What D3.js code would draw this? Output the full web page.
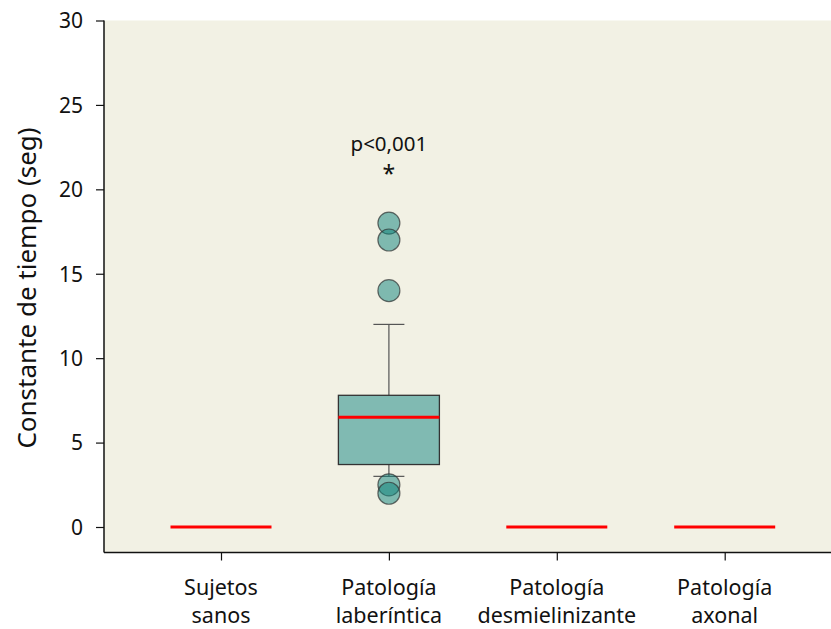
<!DOCTYPE html>
<html><head><meta charset="utf-8">
<script src="https://cdn.jsdelivr.net/npm/d3@7"></script>
<style>body{margin:0;background:#fff;} svg{display:block;} text{font-family:"Noto Sans","Open Sans",sans-serif;fill:#111;}</style>
</head><body>
<svg id="c" width="831" height="629"></svg>
<script>
const categories = ["Sujetos sanos","Patología laberíntica","Patología desmielinizante","Patología axonal"];
const labelLines = [["Sujetos","sanos"],["Patología","laberíntica"],["Patología","desmielinizante"],["Patología","axonal"]];
// box stats: [min whisker, q1, median, q3, max whisker]
const boxStats = [
  [0,0,0,0,0],
  [3.0,3.7,6.5,7.8,12.0],
  [0,0,0,0,0],
  [0,0,0,0,0]
];
const outlierCat = [1,1,1,1,1];
const outlierVal = [18,17,14,2.5,2.0];
const yTicks = [0,5,10,15,20,25,30];
const annotText = "p<0,001";
const annotStar = "*";

const svg = d3.select("#c");
const L=104, R=831, T=20.5, B=552.5;
const yS = d3.scaleLinear().domain([0,30]).range([527,20.5]);
const x = d3.scalePoint().domain(categories).range([221,724.7]);

svg.append("rect").attr("x",L).attr("y",T).attr("width",R-L).attr("height",B-T).attr("fill","#f2f1e4");

const yAxis = d3.axisLeft(yS).tickValues(yTicks).tickSize(8).tickPadding(13);
const gy = svg.append("g").attr("transform",`translate(${L},0)`).call(yAxis);
gy.select(".domain").remove();
gy.append("line").attr("x1",0).attr("x2",0).attr("y1",T).attr("y2",B).attr("stroke","#111").attr("stroke-width",1.5);
gy.selectAll(".tick line").attr("stroke","#111").attr("stroke-width",1.2);
gy.selectAll(".tick text").style("font-size","21px").attr("fill","#111").attr("dy","0.35em");

const xAxis = d3.axisBottom(x).tickSize(8).tickFormat("");
const gx = svg.append("g").attr("transform",`translate(0,${B})`).call(xAxis);
gx.select(".domain").remove();
gx.append("line").attr("x1",L).attr("x2",R).attr("stroke","#111").attr("stroke-width",1.5);
gx.selectAll(".tick line").attr("stroke","#111").attr("stroke-width",1.2);
categories.forEach((c,i)=>{
  const t = svg.append("text").attr("x",x(c)).attr("text-anchor","middle").style("font-size","21.5px");
  labelLines[i].forEach((ln,j)=>{
    t.append("tspan").attr("x",x(c)).attr("y",595+j*28).text(ln);
  });
});

svg.append("text").attr("transform",`translate(36,288) rotate(-90)`).attr("text-anchor","middle").style("font-size","26px").text("Constante de tiempo (seg)");

const bw=101, cap=31;
boxStats.forEach((s,i)=>{
  const cx = x(categories[i]);
  if (s[4]>s[0]) {
    const g = svg.append("g");
    g.append("line").attr("x1",cx).attr("x2",cx).attr("y1",yS(s[4])).attr("y2",yS(s[3])).attr("stroke","#555").attr("stroke-width",1.2);
    g.append("line").attr("x1",cx).attr("x2",cx).attr("y1",yS(s[1])).attr("y2",yS(s[0])).attr("stroke","#555").attr("stroke-width",1.2);
    g.append("line").attr("x1",cx-cap/2).attr("x2",cx+cap/2).attr("y1",yS(s[4])).attr("y2",yS(s[4])).attr("stroke","#555").attr("stroke-width",1.2);
    g.append("line").attr("x1",cx-cap/2).attr("x2",cx+cap/2).attr("y1",yS(s[0])).attr("y2",yS(s[0])).attr("stroke","#555").attr("stroke-width",1.2);
    g.append("rect").attr("x",cx-bw/2).attr("y",yS(s[3])).attr("width",bw).attr("height",yS(s[1])-yS(s[3])).attr("fill","#80bab2").attr("stroke","#333").attr("stroke-width",1.3);
  }
  svg.append("line").attr("x1",cx-bw/2).attr("x2",cx+bw/2).attr("y1",yS(s[2])).attr("y2",yS(s[2])).attr("stroke","#ff0000").attr("stroke-width",3);
});

outlierVal.forEach((v,i)=>{
  svg.append("circle").attr("cx",x(categories[outlierCat[i]])).attr("cy",yS(v)).attr("r",11)
    .attr("fill","rgb(10,130,122)").attr("fill-opacity",0.5).attr("stroke","#333").attr("stroke-opacity",0.7).attr("stroke-width",1.2);
});

svg.append("text").attr("x",x(categories[1])).attr("y",151).attr("text-anchor","middle").style("font-size","20.5px").text(annotText);
svg.append("text").attr("x",x(categories[1])).attr("y",182).attr("text-anchor","middle").style("font-size","23px").text(annotStar);
</script>
</body></html>
